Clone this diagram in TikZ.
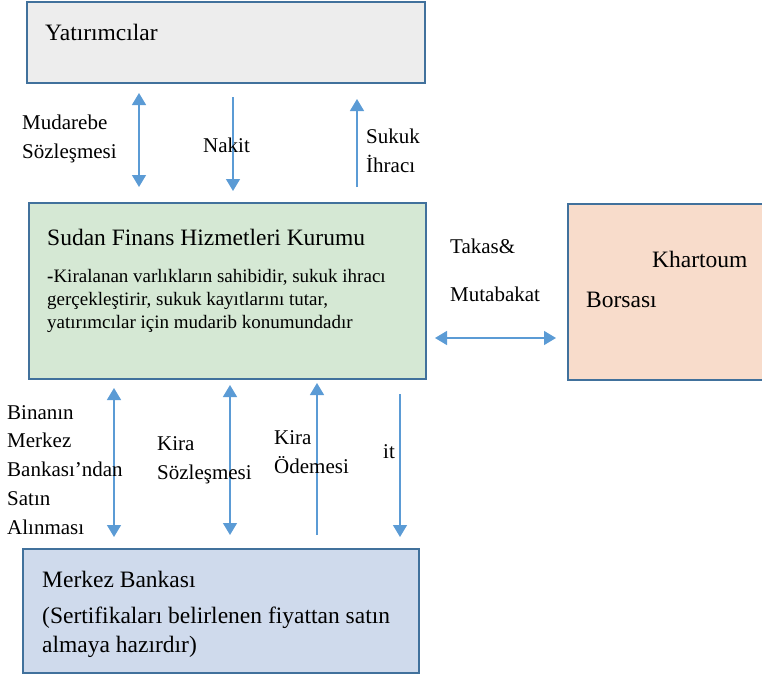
\documentclass[tikz,border=0pt]{standalone}
\usepackage{fontspec}
\setmainfont{Liberation Serif}
\usetikzlibrary{arrows.meta}
\definecolor{boxline}{HTML}{41719C}
\definecolor{flowblue}{HTML}{5B9BD5}
\definecolor{invfill}{HTML}{EDEDED}
\definecolor{sfhkfill}{HTML}{D5E8D4}
\definecolor{bourfill}{HTML}{F8DCCB}
\definecolor{cbfill}{HTML}{CFDAEC}
\tikzset{
  box/.style={draw=boxline, line width=2pt, anchor=north west, inner sep=0pt},
  head/.style={font=\fontsize{23.5}{29}\selectfont, anchor=base west, inner sep=0pt, align=left},
  body/.style={font=\fontsize{19}{22.6}\selectfont, anchor=base west, inner sep=0pt, align=left},
  lbl/.style={font=\fontsize{21}{28.7}\selectfont, anchor=base west, inner sep=0pt, align=left},
  flow/.style={draw=flowblue, line width=1.3pt, -{Triangle[length=12pt,width=14pt]}},
  flow2/.style={draw=flowblue, line width=1.3pt, {Triangle[length=12pt,width=14pt]}-{Triangle[length=12pt,width=14pt]}},
}
\begin{document}
\begin{tikzpicture}[x=1pt, y=-1pt]
    \useasboundingbox (0,0) rectangle (762,677);

    % boxes
    \node[box, fill=invfill, minimum width=398pt, minimum height=81pt] (inv) at (26,1) {};
    \node[box, fill=sfhkfill, minimum width=397pt, minimum height=176pt] (sfhk) at (28,202) {};
    \node[box, fill=bourfill, minimum width=220pt, minimum height=176pt] (bourse) at (567,203) {};
    \node[box, fill=cbfill, minimum width=396pt, minimum height=124pt] (cb) at (22,548) {};

    % box texts (multi-line nodes sit on their last baseline)
    \node[head] (invtxt) at (45,41) {Yatırımcılar};
    \node[head] (sfhktitle) at (47,245) {Sudan Finans Hizmetleri Kurumu};
    \node[body] (sfhkbody) at (47,328) {\textbf{-}Kiralanan varlıkların sahibidir, sukuk ihracı\\
        gerçekleştirir, sukuk kayıtlarını tutar,\\
        yatırımcılar için mudarib konumundadır};
    \node[head] (khartoum) at (652,267) {Khartoum};
    \node[head] (borsasi) at (586,307) {Borsası};
    \node[head] (cbtitle) at (42,587) {Merkez Bankası};
    \node[head] (cbbody) at (42,652) {(Sertifikaları belirlenen fiyattan satın\\
        almaya hazırdır)};

    % arrow ends
    \coordinate (mudA) at (139,93);   \coordinate (mudB) at (139,187);
    \coordinate (nakA) at (233,97);   \coordinate (nakB) at (233,191);
    \coordinate (sukA) at (357,187);  \coordinate (sukB) at (357,99);
    \coordinate (takA) at (435,338);  \coordinate (takB) at (556,338);
    \coordinate (binA) at (114,388);  \coordinate (binB) at (114,537);
    \coordinate (kirA) at (230,385);  \coordinate (kirB) at (230,535);
    \coordinate (odeA) at (317,535);  \coordinate (odeB) at (317,383);
    \coordinate (itA) at (400,394);   \coordinate (itB) at (400,537);

    % connectors
    \draw[flow2] (mudA) -- (mudB);
    \draw[flow] (nakA) -- (nakB);
    \draw[flow] (sukA) -- (sukB);
    \draw[flow2] (takA) -- (takB);
    \draw[flow2] (binA) -- (binB);
    \draw[flow2] (kirA) -- (kirB);
    \draw[flow] (odeA) -- (odeB);
    \draw[flow] (itA) -- (itB);

    % connector labels
    \node[lbl] (mudlbl) at (22,158) {Mudarebe\\Sözleşmesi};
    \node[lbl] (naklbl) at (203,152) {Nakit};
    \node[lbl] (suklbl) at (366,172) {Sukuk\\İhracı};
    \node[lbl] (taklbl) at (450,301) {Takas\&\\[19.3pt]Mutabakat};
    \node[lbl] (binlbl) at (7,534) {Binanın\\Merkez\\Bankası’ndan\\Satın\\Alınması};
    \node[lbl] (kirlbl) at (157,479) {Kira\\Sözleşmesi};
    \node[lbl] (odelbl) at (274,473) {Kira\\Ödemesi};
    \node[lbl] (itlbl) at (383,458) {it};
\end{tikzpicture}
\end{document}
